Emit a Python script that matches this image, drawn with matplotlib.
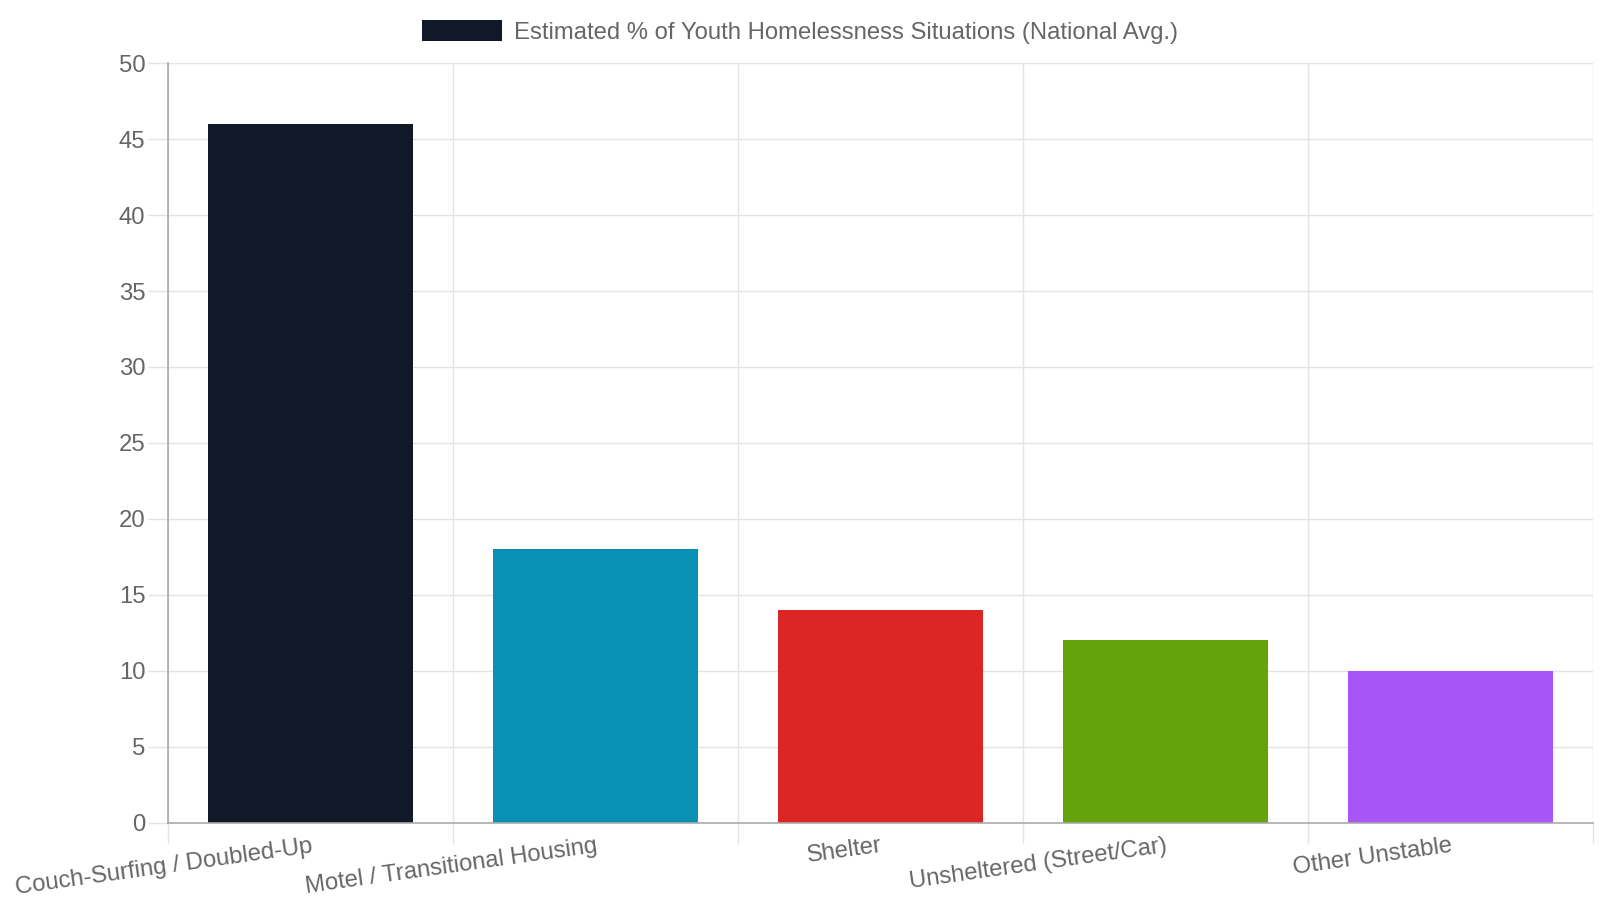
import matplotlib
matplotlib.use("Agg")
import matplotlib.pyplot as plt
from matplotlib.patches import Patch
import numpy as np

categories = ["Couch-Surfing / Doubled-Up", "Motel / Transitional Housing", "Shelter",
              "Unsheltered (Street/Car)", "Other Unstable"]
values = [46, 18, 14, 12, 10]
colors = ["#111827", "#0891b2", "#dc2626", "#65a30d", "#a855f7"]
legend_label = "Estimated % of Youth Homelessness Situations (National Avg.)"
yticks = [0, 5, 10, 15, 20, 25, 30, 35, 40, 45, 50]

plt.rcParams['font.family'] = ['Liberation Sans', 'DejaVu Sans']
text_color = "#666666"
grid_color = "#e3e3e3"
axis_color = "#aaaaaa"
fs = 17.2

fig = plt.figure(figsize=(16, 9), dpi=100)
ax = fig.add_axes([168.4 / 1600, 1 - 822.5 / 900, (1593 - 168.4) / 1600, (822.5 - 63.3) / 900])

x = np.arange(len(categories))
ax.bar(x, values, width=0.72, color=colors, zorder=3)

ax.set_xlim(-0.5, len(categories) - 0.5)
ax.set_ylim(0, 50)
ax.set_yticks(yticks)
ax.set_yticklabels([str(v) for v in yticks])

ax.set_xticks(x)
ax.set_xticklabels(categories, rotation=8, ha='right', va='top', rotation_mode='anchor')
ax.set_xticks(np.arange(-0.5, len(categories), 1.0), minor=True)

ax.tick_params(axis='x', which='major', length=0, pad=9, labelsize=fs, labelcolor=text_color)
ax.tick_params(axis='x', which='minor', length=14.5, width=1, color=grid_color)
ax.tick_params(axis='y', which='major', length=14.5, width=1, color=grid_color, pad=2,
               labelsize=fs, labelcolor=text_color)

ax.grid(True, axis='y', which='major', color=grid_color, linewidth=1, zorder=0)
ax.grid(True, axis='x', which='minor', color=grid_color, linewidth=1, zorder=0)
ax.set_axisbelow(True)

for s in ['top', 'right']:
    ax.spines[s].set_visible(False)
for s in ['left', 'bottom']:
    ax.spines[s].set_color(axis_color)
    ax.spines[s].set_linewidth(1.2)
    ax.spines[s].set_zorder(4)

handle = Patch(facecolor=colors[0], edgecolor='none')
fig.legend([handle], [legend_label], loc='center', bbox_to_anchor=(0.5, 1 - 32 / 900),
           frameon=False, fontsize=fs, labelcolor=text_color,
           handlelength=3.35, handleheight=1.0, handletextpad=0.5)

fig.savefig("out.png", dpi=100, facecolor='white')
